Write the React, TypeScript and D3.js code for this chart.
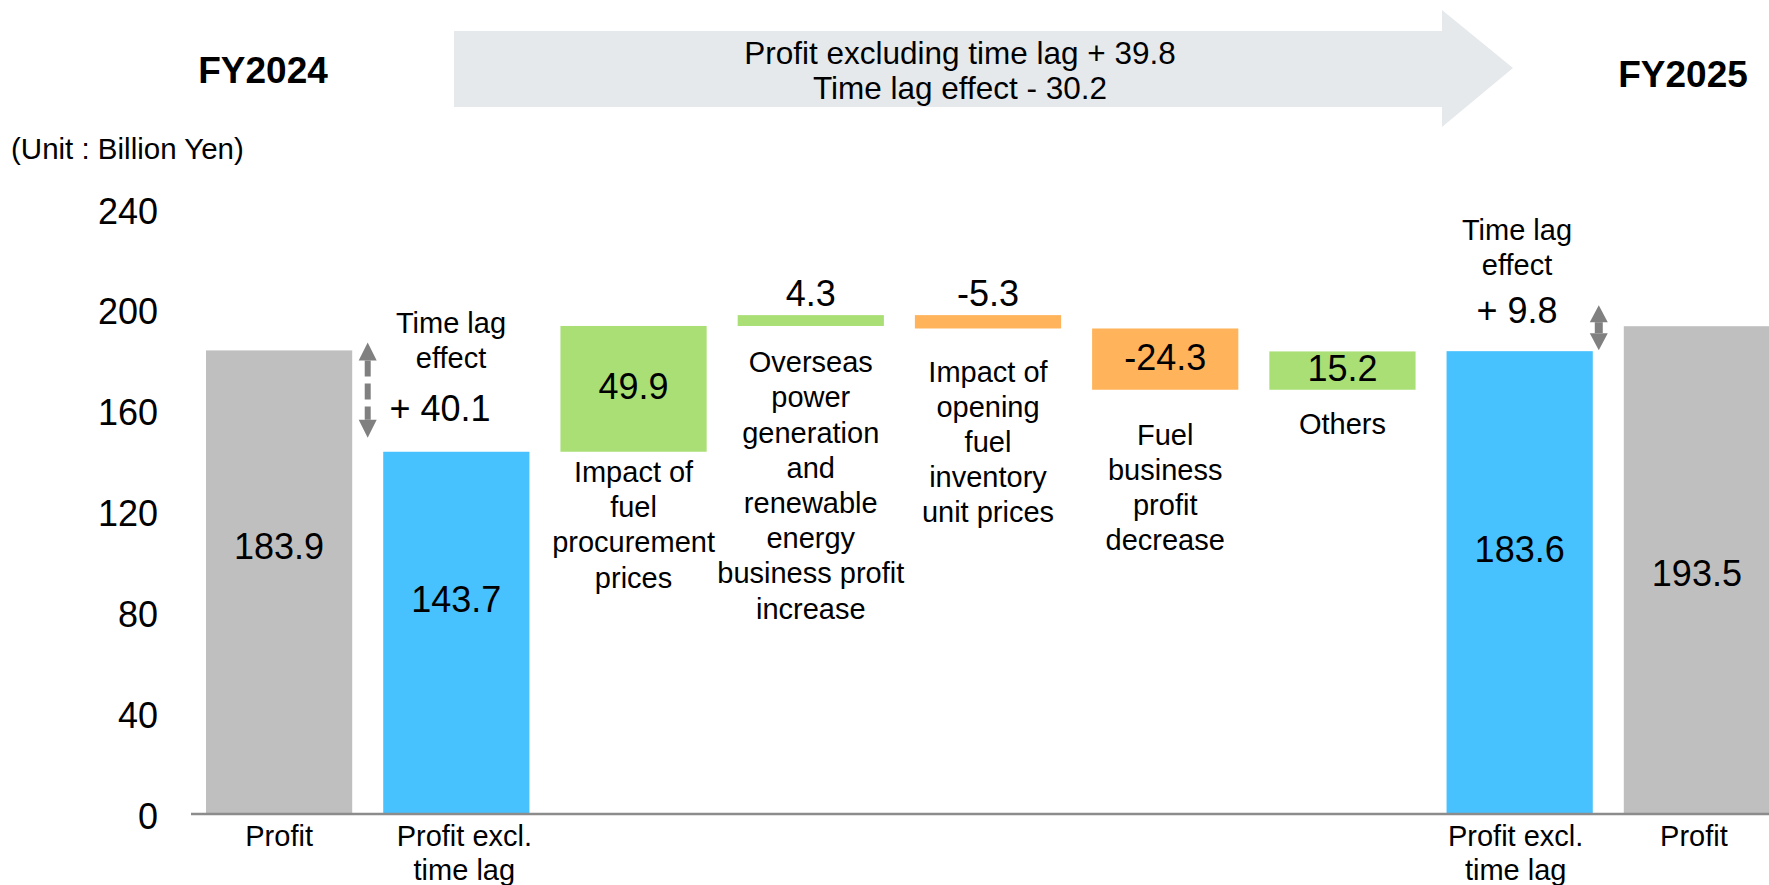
import React from "react";
import * as d3 from "d3";

// ---------- data ----------
const categoryLabels: string[][] = [
  ["Profit"],
  ["Profit excl.", "time lag"],
  ["Impact of", "fuel", "procurement", "prices"],
  ["Overseas", "power", "generation", "and", "renewable", "energy", "business profit", "increase"],
  ["Impact of", "opening", "fuel", "inventory", "unit prices"],
  ["Fuel", "business", "profit", "decrease"],
  ["Others"],
  ["Profit excl.", "time lag"],
  ["Profit"],
];
const barKinds = ["total", "subtotal", "delta", "delta", "delta", "delta", "delta", "subtotal", "total"];
const values = [183.9, 143.7, 49.9, 4.3, -5.3, -24.3, 15.2, 183.6, 193.5];
const valueLabels = ["183.9", "143.7", "49.9", "4.3", "-5.3", "-24.3", "15.2", "183.6", "193.5"];
const yTicks = [0, 40, 80, 120, 160, 200, 240];
const yearLabels = ["FY2024", "FY2025"];
const headerLines = ["Profit excluding time lag + 39.8", "Time lag effect - 30.2"];
const timeLagTitle = ["Time lag", "effect"];
const timeLagLeft = "+ 40.1";
const timeLagRight = "+ 9.8";
const unitLabel = "(Unit : Billion Yen)";

// ---------- layout / style ----------
const W = 1769;
const H = 885;
const FONT = "'Liberation Sans', Arial, Helvetica, sans-serif";
const COLORS: Record<string, string> = {
  total: "#BFBFBF",
  subtotal: "#47C2FF",
  up: "#A9DF75",
  down: "#FFB35A",
};
// vertical offsets of in-bar total labels (from bar top) and of category labels (from bar bottom)
const totalLabelOffset = [196, 148, 0, 0, 0, 0, 0, 198, 247];
const catLabelOffset = [0, 0, 20, 36, 43, 45, 34, 0, 0];

export default function App() {
  const x = d3
    .scaleBand<number>()
    .domain(d3.range(values.length))
    .range([206, 1770])
    .paddingInner(0.175)
    .paddingOuter(0);
  const y = d3.scaleLinear().domain([0, 240]).range([814, 209]);
  const bw = x.bandwidth();

  // waterfall computation
  let running = 0;
  const bars = values.map((v, i) => {
    const kind = barKinds[i];
    let start = 0;
    let end = v;
    if (kind === "delta") {
      start = running;
      end = running + v;
      running = end;
    } else {
      running = v;
    }
    const color = kind === "delta" ? (v >= 0 ? COLORS.up : COLORS.down) : COLORS[kind];
    return { i, kind, start, end, color, v };
  });

  const lineH = 35.2;

  // time-lag arrows
  const leftArrowX = (x(0)! + bw + x(1)!) / 2;
  const lTop = y(values[0]) - 8;
  const lBot = y(values[1]) - 14;
  const rightArrowX = x(7)! + bw + 6;
  const rTop = y(values[8]) - 21;
  const rBot = y(values[7]) - 1;
  const head = 18;
  const headW = 9;
  const arrowGray = "#808080";

  return (
    <svg
      width={W}
      height={H}
      viewBox={`0 0 ${W} ${H}`}
      style={{ position: "absolute", left: 0, top: 0, background: "#fff" }}
      fontFamily={FONT}
    >
      {/* header arrow */}
      <polygon
        points={`454,31 1442,31 1442,10 1513,68 1442,127 1442,107 454,107`}
        fill="#E6E9EC"
      />
      {headerLines.map((t, k) => (
        <text key={k} x={960} y={53 + k * 35} dy="0.35em" textAnchor="middle" fontSize={31.5} fill="#000">
          {t}
        </text>
      ))}
      <text x={263} y={70} dy="0.35em" textAnchor="middle" fontSize={37} fontWeight="bold">
        {yearLabels[0]}
      </text>
      <text x={1683} y={74} dy="0.35em" textAnchor="middle" fontSize={37} fontWeight="bold">
        {yearLabels[1]}
      </text>
      <text x={11} y={149} dy="0.35em" fontSize={29.5}>
        {unitLabel}
      </text>

      {/* y tick labels */}
      {yTicks.map((t) => (
        <text key={t} x={158} y={y(t) + 2} dy="0.35em" textAnchor="end" fontSize={36}>
          {t}
        </text>
      ))}

      {/* bars */}
      {bars.map((b) => {
        const top = y(Math.max(b.start, b.end));
        const bot = y(Math.min(b.start, b.end));
        return (
          <rect key={b.i} x={x(b.i)} y={top} width={bw} height={bot - top} fill={b.color} />
        );
      })}

      {/* axis line */}
      <line x1={191} x2={W} y1={y(0)} y2={y(0)} stroke="#8C8C8C" strokeWidth={2.5} />

      {/* value labels */}
      {bars.map((b) => {
        const cx = x(b.i)! + bw / 2;
        const top = y(Math.max(b.start, b.end));
        const bot = y(Math.min(b.start, b.end));
        let ly: number;
        if (b.kind !== "delta") ly = top + totalLabelOffset[b.i];
        else if (bot - top > 30) ly = (top + bot) / 2 - 2;
        else ly = top - 22;
        return (
          <text key={b.i} x={cx} y={ly} dy="0.35em" textAnchor="middle" fontSize={36}>
            {valueLabels[b.i]}
          </text>
        );
      })}

      {/* category labels */}
      {bars.map((b) => {
        const cx = x(b.i)! + bw / 2;
        const lines = categoryLabels[b.i];
        let y0: number;
        if (b.kind === "delta") y0 = y(Math.min(b.start, b.end)) + catLabelOffset[b.i];
        else y0 = 836;
        const dx = b.kind === "subtotal" ? (b.i === 1 ? 8 : -4) : b.i === 8 ? -3 : 0;
        return (
          <g key={b.i}>
            {lines.map((t, k) => (
              <text key={k} x={cx + dx} y={y0 + k * (b.kind === "delta" ? lineH : 34)} dy="0.35em" textAnchor="middle" fontSize={29}>
                {t}
              </text>
            ))}
          </g>
        );
      })}

      {/* left time lag annotation */}
      <line
        x1={leftArrowX}
        x2={leftArrowX}
        y1={lTop + head}
        y2={lBot - head}
        stroke={arrowGray}
        strokeWidth={6}
        strokeDasharray="16 7"
      />
      <polygon
        points={`${leftArrowX},${lTop} ${leftArrowX - headW},${lTop + head} ${leftArrowX + headW},${lTop + head}`}
        fill={arrowGray}
      />
      <polygon
        points={`${leftArrowX},${lBot} ${leftArrowX - headW},${lBot - head} ${leftArrowX + headW},${lBot - head}`}
        fill={arrowGray}
      />
      {timeLagTitle.map((t, k) => (
        <text key={k} x={451} y={323 + k * 35} dy="0.35em" textAnchor="middle" fontSize={29}>
          {t}
        </text>
      ))}
      <text x={440} y={408} dy="0.35em" textAnchor="middle" fontSize={36}>
        {timeLagLeft}
      </text>

      {/* right time lag annotation */}
      <rect x={rightArrowX - 4} y={rTop + 17} width={8} height={rBot - rTop - 34} fill={arrowGray} />
      <polygon
        points={`${rightArrowX},${rTop} ${rightArrowX - headW},${rTop + 17} ${rightArrowX + headW},${rTop + 17}`}
        fill={arrowGray}
      />
      <polygon
        points={`${rightArrowX},${rBot} ${rightArrowX - headW},${rBot - 17} ${rightArrowX + headW},${rBot - 17}`}
        fill={arrowGray}
      />
      {timeLagTitle.map((t, k) => (
        <text key={k} x={1517} y={230 + k * 35} dy="0.35em" textAnchor="middle" fontSize={29}>
          {t}
        </text>
      ))}
      <text x={1517} y={310} dy="0.35em" textAnchor="middle" fontSize={36}>
        {timeLagRight}
      </text>
    </svg>
  );
}
